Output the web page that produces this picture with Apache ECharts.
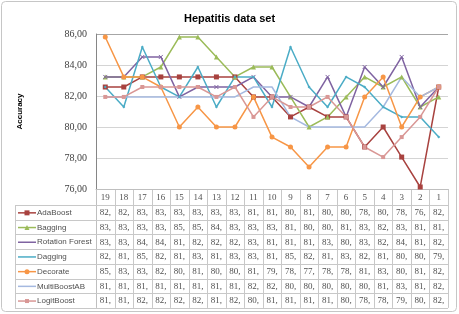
<!DOCTYPE html>
<html>
<head>
<meta charset="utf-8">
<script src="https://cdn.jsdelivr.net/npm/echarts@6/dist/echarts.min.js"></script>
<style>
  html, body { margin: 0; padding: 0; background: #fff; }
  #chart { width: 459px; height: 314px; }
</style>
</head>
<body>
<div id="chart"></div>
<script>
var categories = ['19', '18', '17', '16', '15', '14', '13', '12', '11', '10', '9', '8', '7', '6', '5', '4', '3', '2', '1'];
var yTicks = [76, 78, 80, 82, 84, 86];

var adaBoost     = [82.58, 82.58, 83.23, 83.23, 83.23, 83.23, 83.23, 83.23, 81.94, 81.94, 80.65, 81.29, 80.65, 80.65, 78.71, 80.00, 78.06, 76.13, 82.58];
var bagging      = [83.23, 83.23, 83.23, 83.87, 85.81, 85.81, 84.52, 83.23, 83.87, 83.87, 81.94, 80.00, 80.65, 81.94, 83.23, 82.58, 83.23, 81.29, 81.94];
var rotation     = [83.23, 83.23, 84.52, 84.52, 81.94, 82.58, 82.58, 82.58, 83.23, 81.94, 81.94, 81.29, 83.23, 80.65, 83.87, 82.58, 84.52, 81.29, 82.58];
var dagging      = [82.58, 81.29, 85.16, 82.58, 81.94, 83.87, 81.29, 83.23, 83.23, 81.29, 85.16, 82.58, 81.29, 83.23, 82.58, 81.29, 80.65, 80.65, 79.35];
var decorate     = [85.81, 83.23, 83.23, 82.58, 80.00, 81.29, 80.00, 80.00, 81.94, 79.35, 78.71, 77.42, 78.71, 78.71, 81.94, 83.23, 80.00, 81.94, 82.58];
var multiBoost   = [81.94, 81.94, 81.94, 81.94, 81.94, 81.94, 81.94, 81.94, 82.58, 82.58, 80.65, 80.00, 80.00, 80.00, 80.00, 81.29, 83.23, 81.94, 82.58];
var logitBoost   = [81.94, 81.94, 82.58, 82.58, 82.58, 82.58, 81.94, 82.58, 80.65, 81.94, 81.29, 81.29, 81.94, 80.65, 78.71, 78.06, 79.35, 80.65, 82.58];

var names  = ['AdaBoost', 'Bagging', 'Rotation Forest', 'Dagging', 'Decorate', 'MultiBoostAB', 'LogitBoost'];
var values = [adaBoost, bagging, rotation, dagging, decorate, multiBoost, logitBoost];
var colors = ['#a8423f', '#9bbb59', '#7f63a1', '#4bacc6', '#f79646', '#a5b9e0', '#d99795'];
var symbols = ['rect', 'triangle', 'path://M0,0L10,10M10,0L0,10', 'diamond', 'circle', 'none', 'rect'];
var symbolSizes = [5, 5, 4, 3, 5, 3, 4];

var chart = echarts.init(document.getElementById('chart'));

var series = names.map(function (n, i) {
  return {
    name: n,
    type: 'line',
    data: values[i],
    symbol: symbols[i],
    symbolSize: symbolSizes[i],
    showAllSymbol: true,
    lineStyle: { color: colors[i], width: 1.5 },
    itemStyle: { color: colors[i], borderColor: colors[i], borderWidth: i == 2 ? 1 : 0 },
    animation: false
  };
});

var option = {
  animation: false,
  title: {
    text: 'Hepatitis data set',
    left: 'center',
    top: 8,
    textStyle: { fontFamily: 'Liberation Sans', fontSize: 11, fontWeight: 'bold', color: '#000' }
  },
  grid: { left: 96, right: 11, top: 34, height: 155 },
  xAxis: {
    type: 'category',
    data: categories,
    boundaryGap: true,
    axisLine: { lineStyle: { color: '#bfbfbf' } },
    axisTick: { show: false },
    axisLabel: { show: false }
  },
  yAxis: {
    type: 'value',
    min: 76,
    max: 86,
    interval: 2,
    name: 'Accuracy',
    nameLocation: 'middle',
    nameGap: 72,
    nameTextStyle: { fontFamily: 'Liberation Sans', fontSize: 8, fontWeight: 'bold', color: '#000' },
    axisLine: { show: true, lineStyle: { color: '#868686' } },
    axisTick: { show: false },
    axisLabel: {
      margin: 9,
      fontFamily: 'Liberation Serif',
      fontSize: 10,
      color: '#404040',
      formatter: function (v) { return v.toFixed(2).replace('.', ','); }
    },
    splitLine: { lineStyle: { color: '#d4d4d4' } }
  },
  series: series
};
chart.setOption(option);

// data table under the plot
var x0 = chart.convertToPixel({ xAxisIndex: 0 }, 0);
var x1 = chart.convertToPixel({ xAxisIndex: 0 }, 1);
var w = x1 - x0;
var left = x0 - w / 2;
var right = left + w * categories.length;
var yTop = chart.convertToPixel({ yAxisIndex: 0 }, 76);
var yMax = chart.convertToPixel({ yAxisIndex: 0 }, 86);
var headH = 16, rowH = 14.7, legLeft = 15;
var lineCol = '#c8c8c8';
var g = [];

function hline(xa, xb, y, c) {
  g.push({ type: 'line', shape: { x1: xa, y1: y, x2: xb, y2: y }, style: { stroke: c || lineCol, lineWidth: 1 }, silent: true });
}
function vline(x, ya, yb, c) {
  g.push({ type: 'line', shape: { x1: x, y1: ya, x2: x, y2: yb }, style: { stroke: c || lineCol, lineWidth: 1 }, silent: true });
}

// darker top gridline
hline(left, right, Math.round(yMax) + 0.5, '#a6a6a6');

var yBody = yTop + headH;
var yEnd = yBody + rowH * names.length;
for (var k = 0; k <= categories.length; k++) {
  vline(Math.round(left + k * w) + 0.5, yTop, yEnd, k == 0 ? '#bfbfbf' : lineCol);
}
vline(legLeft + 0.5, yBody, yEnd);
hline(legLeft, right, Math.round(yBody) + 0.5);
for (var r = 0; r < names.length; r++) {
  hline(legLeft, right, Math.round(yBody + rowH * (r + 1)) + 0.5);
}

categories.forEach(function (c, i) {
  g.push({
    type: 'text', silent: true,
    style: { text: c, x: x0 + i * w, y: yTop + headH / 2 + 1, textAlign: 'center', textVerticalAlign: 'middle',
      fontFamily: 'Liberation Serif', fontSize: 9, fill: '#505050' }
  });
});

names.forEach(function (n, r) {
  var cy = yBody + rowH * r + rowH / 2 + 0.5;
  g.push({ type: 'line', silent: true, shape: { x1: 18, y1: cy, x2: 36, y2: cy }, style: { stroke: colors[r], lineWidth: 1.5 } });
  var s = symbolSizes[r];
  if (symbols[r] == 'rect') g.push({ type: 'rect', silent: true, shape: { x: 27 - s / 2, y: cy - s / 2, width: s, height: s }, style: { fill: colors[r] } });
  if (symbols[r] == 'circle') g.push({ type: 'circle', silent: true, shape: { cx: 27, cy: cy, r: s / 2 }, style: { fill: colors[r] } });
  if (symbols[r] == 'triangle') g.push({ type: 'polygon', silent: true, shape: { points: [[27, cy - s / 2], [27 + s / 2, cy + s / 2], [27 - s / 2, cy + s / 2]] }, style: { fill: colors[r] } });
  g.push({
    type: 'text', silent: true,
    style: { text: n, x: 37, y: cy, textVerticalAlign: 'middle', fontFamily: 'Liberation Sans', fontSize: 8, fill: '#505050' }
  });
  values[r].forEach(function (v, i) {
    g.push({
      type: 'text', silent: true,
      style: { text: Math.floor(v) + ',', x: x0 + i * w, y: cy, textAlign: 'center', textVerticalAlign: 'middle',
        fontFamily: 'Liberation Serif', fontSize: 9, fill: '#505050' }
    });
  });
});

// chart border
g.push({ type: 'rect', silent: true, z: -1, shape: { x: 1.5, y: 1.5, width: 455, height: 310, r: 4 }, style: { fill: 'none', stroke: '#c6c6c6', lineWidth: 1 } });

chart.setOption({ graphic: g });
</script>
</body>
</html>
